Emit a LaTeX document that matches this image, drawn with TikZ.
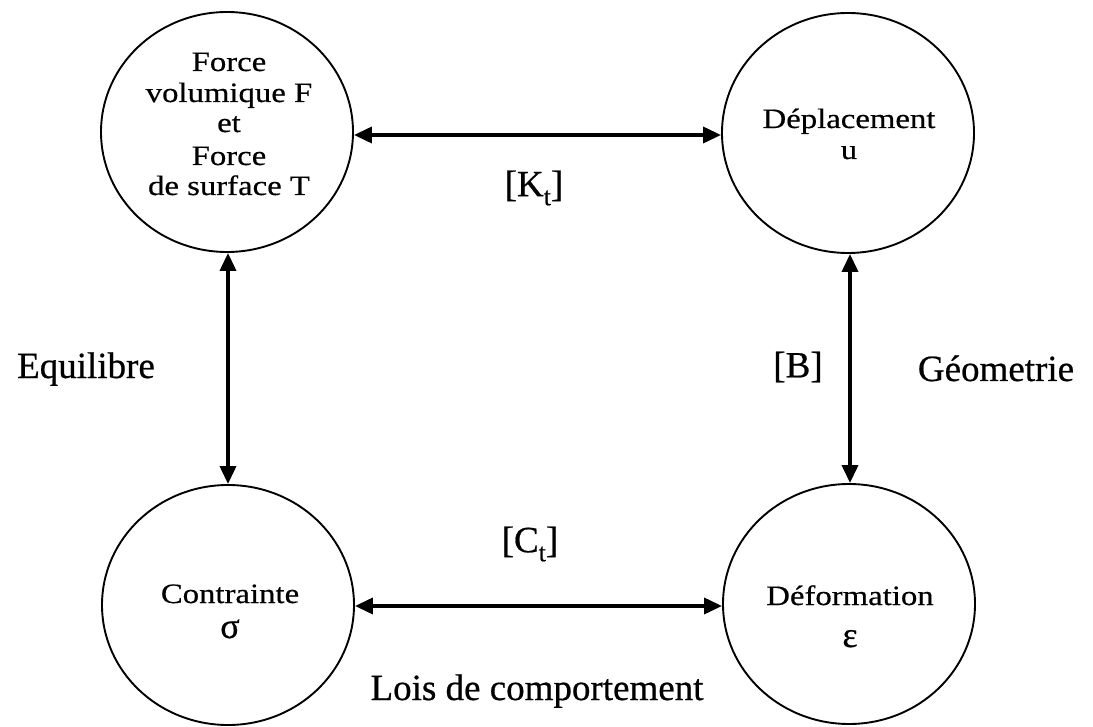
\documentclass[tikz,border=0pt]{standalone}
\usepackage{fontspec}
\setmainfont[FakeBold=0.6]{Liberation Serif}
\newfontfamily\nodefont[FakeStretch=1.17,FakeBold=0.5]{Liberation Serif}
\usetikzlibrary{arrows.meta,shapes.geometric}
\begin{document}
\begin{tikzpicture}[x=1pt,y=-1pt,
  bubble/.style={draw,line width=1.9pt,ellipse,minimum width=252pt,minimum height=240pt,inner sep=0pt},
  txt/.style={anchor=base,inner sep=0pt,font=\nodefont\fontsize{28}{31}\selectfont},
  greek/.style={anchor=base,inner sep=0pt,font=\fontsize{36}{36}\selectfont},
  lbl/.style={font=\fontsize{37}{44}\selectfont,inner sep=0pt},
  link/.style={line width=3.6pt,{Triangle[length=18pt,width=16pt]}-{Triangle[length=18pt,width=16pt]}}]
\useasboundingbox (0,0) rectangle (1093,727);
\node[bubble] (tl) at (227,132) {};
\node[bubble] (tr) at (848,133) {};
\node[bubble] (bl) at (228,605) {};
\node[bubble] (br) at (849,604) {};
% texts inside circles
\node[txt] (tl1) at (229,71) {Force};
\node[txt] (tl2) at (229,102) {volumique F};
\node[txt] (tl3) at (229,132) {et};
\node[txt] (tl4) at (229,165) {Force};
\node[txt] (tl5) at (229,195) {de surface T};
\node[txt] (tr1) at (849,128) {Déplacement};
\node[txt] (tr2) at (849,159) {u};
\node[txt] (bl1) at (230,603) {Contrainte};
\node[greek] (bl2) at (230,638) {σ};
\node[txt] (br1) at (850,605) {Déformation};
\node[greek] (br2) at (850,647) {ε};
% connectors
\draw[link] (tl.east |- 0,135) -- (tr.west |- 0,135);
\draw[link] (bl.east |- 0,606) -- (br.west |- 0,606);
\draw[link] (tl.south -| 228,0) -- (bl.north -| 228,0);
\draw[link] (tr.south -| 850,0) -- (br.north -| 850,0);
% labels
\node[lbl] (kt) at (534,188) {[K\raisebox{-9pt}{\fontsize{26}{26}\selectfont t}]};
\node[lbl] (ct) at (530,544) {[C\raisebox{-9pt}{\fontsize{26}{26}\selectfont t}]};
\node[lbl] (b) at (798,367) {[B]};
\node[lbl,anchor=base] (eq) at (86,378) {Equilibre};
\node[lbl,anchor=base] (geo) at (996,381) {Géometrie};
\node[lbl,anchor=base] (lois) at (537,700) {Lois de comportement};
\end{tikzpicture}
\end{document}
